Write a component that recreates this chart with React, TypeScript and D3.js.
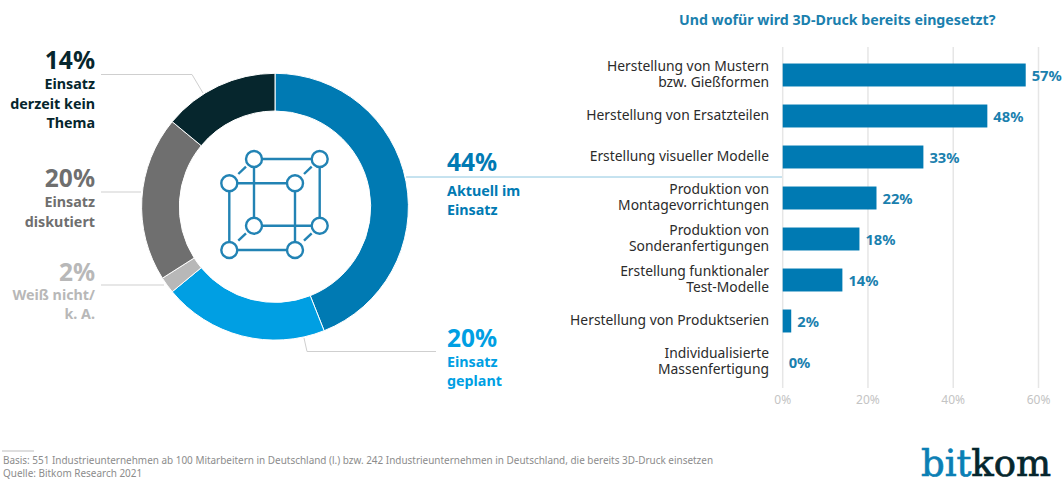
import React from "react";
import * as d3 from "d3";

const donutLabels = ["Aktuell im Einsatz", "Einsatz geplant", "Weiß nicht/ k. A.", "Einsatz diskutiert", "Einsatz derzeit kein Thema"];
const donutValues = [44, 20, 2, 20, 14];
const donutColors = ["#007ab3", "#009fe3", "#b8b8b8", "#6f6f6f", "#06262d"];

const barCategories = [
  ["Herstellung von Mustern", "bzw. Gießformen"],
  ["Herstellung von Ersatzteilen"],
  ["Erstellung visueller Modelle"],
  ["Produktion von", "Montagevorrichtungen"],
  ["Produktion von", "Sonderanfertigungen"],
  ["Erstellung funktionaler", "Test-Modelle"],
  ["Herstellung von Produktserien"],
  ["Individualisierte", "Massenfertigung"],
];
const barValues = [57, 48, 33, 22, 18, 14, 2, 0];
const axisTicks = [0, 20, 40, 60];

const FONT = "'Noto Sans', sans-serif";
const BLUE = "#007ab3";
const LIGHT = "#009fe3";

const cx = 275, cy = 206.7;
const arc = d3.arc<d3.PieArcDatum<number>>().innerRadius(95.7).outerRadius(133.4);
const pie = d3.pie<number>().sort(null).value((d) => d);

const x = d3.scaleLinear().domain([0, 60]).range([782.7, 1038.5]);
const y = d3.scaleBand<number>().domain(d3.range(8)).range([54.5, 382.5]).paddingInner(0.44).paddingOuter(0.22);

const iconX = [229.3, 295];
const iconY = [183.3, 250];
const iconD = [24.7, -24.3];

const leader = d3.line();

type LabelProps = { x: number; anchor: string; color: string; pct: string; pctY: number; lines: [string, number][] };
const Label = ({ x, anchor, color, pct, pctY, lines }: LabelProps) => (
  <text textAnchor={anchor} fill={color} fontFamily={FONT} fontWeight={700}>
    <tspan x={x} y={pctY} fontSize={24.5}>{pct}</tspan>
    {lines.map(([t, yy]) => (
      <tspan key={t} x={x} y={yy} fontSize={14.3}>{t}</tspan>
    ))}
  </text>
);

export default function App() {
  const arcs = pie(donutValues);
  const front: [number, number][] = iconX.flatMap((a) => iconY.map((b) => [a, b] as [number, number]));
  const back: [number, number][] = front.map(([a, b]) => [a + iconD[0], b + iconD[1]]);
  const iconColor = "#2283b4";
  return (
    <svg width={1062} height={493} style={{ position: "absolute", left: 0, top: 0, background: "#fff" }}>
      {/* leader lines */}
      <g fill="none" stroke="#cfcfcf" strokeWidth={1}>
        <path d={leader([[101, 74.5], [192, 74.5], [203, 93]])!} />
        <path d={leader([[101, 192], [141, 192]])!} />
        <path d={leader([[101, 285], [164, 285]])!} />
        <path d={leader([[304, 338], [307, 351.5], [436, 351.5]])!} />
      </g>
      <path d={leader([[406, 177], [782, 177]])!} fill="none" stroke="#8cc6e0" strokeWidth={1} />

      {/* donut */}
      <g transform={`translate(${cx},${cy})`}>
        {arcs.map((a, i) => (
          <path key={donutLabels[i]} d={arc(a)!} fill={donutColors[i]} stroke="#fff" strokeWidth={1} />
        ))}
      </g>

      {/* cube icon */}
      <g stroke={iconColor} strokeWidth={2.4} fill="none">
        {[front, back].map((pts, k) => (
          <path key={k} d={`M${pts[0]}L${pts[1]}L${pts[3]}L${pts[2]}Z`} />
        ))}
        {front.map(([a, b], i) => (
          <line key={i} x1={a + 9} y1={b - 9.3} x2={a + 16.7} y2={b - 16.6} />
        ))}
        {[...front, ...back].map(([a, b], i) => (
          <circle key={i} cx={a} cy={b} r={8} fill="#fff" />
        ))}
      </g>

      {/* donut labels */}
      <Label x={95} anchor="end" color="#06262d" pct="14%" pctY={69} lines={[["Einsatz", 89], ["derzeit kein", 108.7], ["Thema", 127.7]]} />
      <Label x={95} anchor="end" color="#6f6f6f" pct="20%" pctY={186.7} lines={[["Einsatz", 206.7], ["diskutiert", 226.7]]} />
      <Label x={95} anchor="end" color="#b8b8b8" pct="2%" pctY={280.7} lines={[["Weiß nicht/", 300], ["k. A.", 319]]} />
      <Label x={447} anchor="start" color={BLUE} pct="44%" pctY={171} lines={[["Aktuell im", 195.7], ["Einsatz", 215]]} />
      <Label x={447} anchor="start" color={LIGHT} pct="20%" pctY={346.7} lines={[["Einsatz", 366.7], ["geplant", 386]]} />

      {/* bar chart */}
      <text x={679} y={25} fontFamily={FONT} fontWeight={700} fontSize={14.2} fill="#1a80ae">Und wofür wird 3D-Druck bereits eingesetzt?</text>
      {axisTicks.map((t) => (
        <g key={t}>
          <line x1={x(t)} x2={x(t)} y1={47} y2={388} stroke="#e6e6e6" strokeWidth={1.5} />
          <text x={x(t)} y={404} textAnchor="middle" fontFamily={FONT} fontSize={12} fill="#c4c4c4">{t}%</text>
        </g>
      ))}
      {barValues.map((v, i) => {
        const top = y(i)!;
        const mid = top + y.bandwidth() / 2;
        const lines = barCategories[i];
        return (
          <g key={i}>
            {v > 0 && <rect x={x(0)} y={top} width={x(v) - x(0)} height={y.bandwidth()} fill={BLUE} />}
            <text x={x(v) + 6} y={mid + 5.5} fontFamily={FONT} fontWeight={700} fontSize={14.7} fill="#1a80ae">{v}%</text>
            <text textAnchor="end" fontFamily={FONT} fontSize={13.85} fill="#2b2b2b">
              {lines.map((t, k) => (
                <tspan key={t} x={769} y={mid + 4.3 + (k - (lines.length - 1) / 2) * 16.3}>{t}</tspan>
              ))}
            </text>
          </g>
        );
      })}

      {/* footer */}
      <line x1={2} x2={34} y1={451} y2={451} stroke="#bdbdbd" strokeWidth={1} />
      <text fontFamily={FONT} fontSize={9.95} fill="#8c8c8c">
        <tspan x={3} y={464}>Basis: 551 Industrieunternehmen ab 100 Mitarbeitern in Deutschland (l.) bzw. 242 Industrieunternehmen in Deutschland, die bereits 3D-Druck einsetzen</tspan>
        <tspan x={3} y={477}>Quelle: Bitkom Research 2021</tspan>
      </text>
      <text x={921} y={476} fontFamily="'DejaVu Serif', serif" fontSize={37} textLength={130} lengthAdjust="spacingAndGlyphs" strokeWidth={0.7}>
        <tspan fill="#0b7fb5" stroke="#0b7fb5">bit</tspan>
        <tspan fill="#06262d" stroke="#06262d">kom</tspan>
      </text>
    </svg>
  );
}
